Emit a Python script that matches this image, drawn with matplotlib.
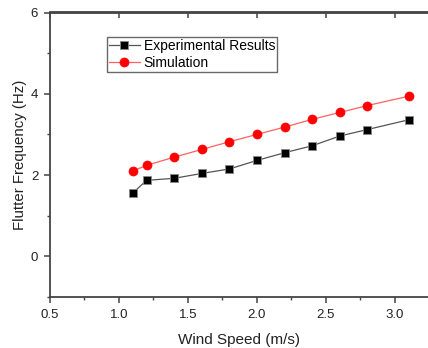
import matplotlib
matplotlib.use("Agg")
import matplotlib.pyplot as plt
from matplotlib.ticker import MultipleLocator

plt.rcParams['font.family'] = ['Liberation Sans', 'DejaVu Sans']

wind_speed = [1.1, 1.2, 1.4, 1.6, 1.8, 2.0, 2.2, 2.4, 2.6, 2.8, 3.1]
experimental = [1.56, 1.87, 1.92, 2.04, 2.15, 2.36, 2.55, 2.72, 2.96, 3.12, 3.36]
simulation = [2.10, 2.24, 2.44, 2.63, 2.82, 3.00, 3.18, 3.37, 3.54, 3.71, 3.94]
x_ticks = [0.5, 1.0, 1.5, 2.0, 2.5, 3.0]
x_tick_labels = ['0.5', '1.0', '1.5', '2.0', '2.5', '3.0']
y_ticks = [0, 2, 4, 6]

fig = plt.figure(figsize=(4.28, 3.48), dpi=100)
ax = fig.add_axes([50/428, 1 - 297/348, 1 - 50/428, (297 - 12.5)/348])

ax.plot(wind_speed, experimental, color='#555555', lw=0.9, marker='s',
        markersize=6.2, markerfacecolor='black', markeredgecolor='#888888',
        markeredgewidth=0.6, label='Experimental Results')
ax.plot(wind_speed, simulation, color='#ff6060', lw=0.9, marker='o',
        markersize=6.5, markerfacecolor='#ff0000', markeredgecolor='#ff0000',
        markeredgewidth=0.5, label='Simulation')

ax.set_xlim(0.5, 3.24)
ax.set_ylim(-1, 6)
ax.xaxis.set_minor_locator(MultipleLocator(0.25))
ax.yaxis.set_minor_locator(MultipleLocator(1))
ax.set_xticks(x_ticks)
ax.set_xticklabels(x_tick_labels)
ax.set_yticks(y_ticks)

for s in ['left', 'bottom', 'top']:
    ax.spines[s].set_color('#444444')
    ax.spines[s].set_linewidth(1.3)
ax.spines['right'].set_visible(False)

ax.tick_params(which='major', direction='out', length=4.5, width=1.1,
               color='#444444', labelsize=9.5, labelcolor='#222222', pad=4)
ax.tick_params(which='minor', direction='out', length=2.5, width=1.0,
               color='#444444')

top = ax.secondary_xaxis('top')
top.set_xticks(x_ticks)
top.tick_params(which='major', direction='in', length=4.5, width=1.1,
                color='#444444', labeltop=False)
top.spines['top'].set_color('#444444')
top.spines['top'].set_linewidth(1.3)

ax.set_xlabel('Wind Speed (m/s)', fontsize=11, color='#222222', labelpad=9)
ax.set_ylabel('Flutter Frequency (Hz)', fontsize=10.8, color='#222222', labelpad=3)

leg = ax.legend(loc='upper left', bbox_to_anchor=((107 - 50) / 378, (297 - 37) / 284.5),
                fontsize=10, frameon=True, fancybox=False, edgecolor='#444444',
                handlelength=2.2, handletextpad=0.3, borderpad=0.15,
                labelspacing=0.2, borderaxespad=0)
leg.get_frame().set_linewidth(1.0)

fig.savefig('out.png', dpi=100)
